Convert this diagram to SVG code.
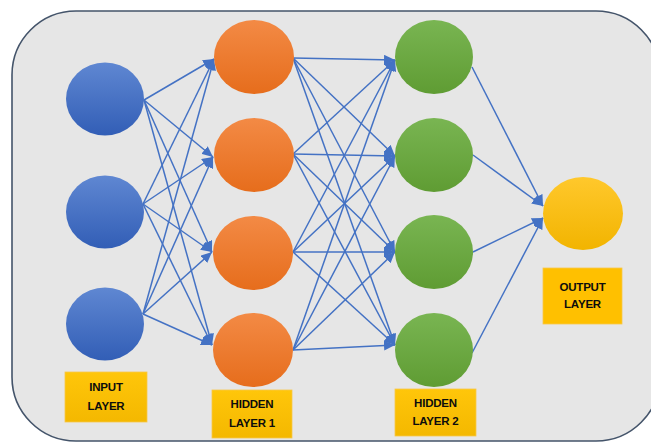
<svg xmlns="http://www.w3.org/2000/svg" width="651" height="443" viewBox="0 0 651 443">
<defs>
<linearGradient id="gBlue" x1="0" y1="0" x2="0" y2="1"><stop offset="0" stop-color="#5f87d2"/><stop offset="1" stop-color="#325eb6"/></linearGradient>
<linearGradient id="gOrange" x1="0" y1="0" x2="0" y2="1"><stop offset="0" stop-color="#f38a45"/><stop offset="1" stop-color="#e66d1c"/></linearGradient>
<linearGradient id="gGreen" x1="0" y1="0" x2="0" y2="1"><stop offset="0" stop-color="#79b552"/><stop offset="1" stop-color="#5f9c33"/></linearGradient>
<linearGradient id="gYellow" x1="0" y1="0" x2="0" y2="1"><stop offset="0" stop-color="#ffc82c"/><stop offset="1" stop-color="#f2b400"/></linearGradient>
<linearGradient id="gLabel" x1="0" y1="0" x2="0" y2="1"><stop offset="0" stop-color="#ffc60a"/><stop offset="1" stop-color="#f4b800"/></linearGradient>
<marker id="arr" markerUnits="userSpaceOnUse" markerWidth="12" markerHeight="10" refX="11" refY="5" orient="auto"><path d="M0,0 L11,5 L0,10 z" fill="#4472c4"/></marker>
<style>
.bg{fill:#e6e6e6;stroke:#44546a;stroke-width:1.6}
.e{stroke:#4472c4;stroke-width:1.5;fill:none;marker-end:url(#arr)}
.in{fill:url(#gBlue)}
.h1{fill:url(#gOrange)}
.h2{fill:url(#gGreen)}
.out{fill:url(#gYellow)}
.lb{fill:url(#gLabel);stroke:#f7c74a;stroke-width:0.8}
.lbo{fill:#ffc000;stroke:#f7c74a;stroke-width:0.8}
.t{font-family:"Liberation Sans",Arial,sans-serif;font-weight:bold;font-size:11.5px;fill:#0d0d0d;text-anchor:middle;letter-spacing:-0.2px}
</style>
</defs>
<rect class="bg" x="12" y="11" width="648" height="430" rx="64" ry="64"/>
<g id="connectors">
<path class="e" d="M144,100 L214,59"/><path class="e" d="M144,100 L213,157"/><path class="e" d="M144,100 L212,252"/><path class="e" d="M144,100 L212,345"/>
<path class="e" d="M143,204 L214,59"/><path class="e" d="M143,204 L213,157"/><path class="e" d="M143,204 L212,252"/><path class="e" d="M143,204 L212,345"/>
<path class="e" d="M143,314 L214,59"/><path class="e" d="M143,314 L213,157"/><path class="e" d="M143,314 L212,252"/><path class="e" d="M143,314 L212,345"/>
<path class="e" d="M293,58 L395,60"/><path class="e" d="M293,58 L395,156"/><path class="e" d="M293,58 L395,252"/><path class="e" d="M293,58 L395,345"/>
<path class="e" d="M293,154 L395,60"/><path class="e" d="M293,154 L395,156"/><path class="e" d="M293,154 L395,252"/><path class="e" d="M293,154 L395,345"/>
<path class="e" d="M293,252 L395,60"/><path class="e" d="M293,252 L395,156"/><path class="e" d="M293,252 L395,252"/><path class="e" d="M293,252 L395,345"/>
<path class="e" d="M293,350 L395,60"/><path class="e" d="M293,350 L395,156"/><path class="e" d="M293,350 L395,252"/><path class="e" d="M293,350 L395,345"/>
<path class="e" d="M472,67 L543,206"/><path class="e" d="M473,155 L543,206"/><path class="e" d="M473,252 L543,218"/><path class="e" d="M472,353 L543,218"/>
</g>
<g id="input1"><ellipse class="in" cx="105" cy="99" rx="39" ry="36.5"/></g>
<g id="input2"><ellipse class="in" cx="105" cy="212" rx="39" ry="36.5"/></g>
<g id="input3"><ellipse class="in" cx="105" cy="324" rx="39" ry="36.5"/></g>
<g id="hidden1_1"><ellipse class="h1" cx="254" cy="57" rx="40" ry="37"/></g>
<g id="hidden1_2"><ellipse class="h1" cx="254" cy="155" rx="40" ry="37"/></g>
<g id="hidden1_3"><ellipse class="h1" cx="253" cy="253" rx="40" ry="37"/></g>
<g id="hidden1_4"><ellipse class="h1" cx="253" cy="350" rx="40" ry="37"/></g>
<g id="hidden2_1"><ellipse class="h2" cx="434" cy="57" rx="39" ry="37"/></g>
<g id="hidden2_2"><ellipse class="h2" cx="434" cy="155" rx="39" ry="37"/></g>
<g id="hidden2_3"><ellipse class="h2" cx="434" cy="252" rx="39" ry="37"/></g>
<g id="hidden2_4"><ellipse class="h2" cx="434" cy="350" rx="39" ry="37"/></g>
<g id="output"><ellipse class="out" cx="583" cy="213.5" rx="40" ry="36.5"/></g>
<g id="label_input"><rect class="lb" x="65" y="372" width="82" height="50"/><text class="t" x="106" y="391">INPUT</text><text class="t" x="106" y="410">LAYER</text></g>
<g id="label_hidden1"><rect class="lb" x="212" y="390" width="80" height="48"/><text class="t" x="252" y="408">HIDDEN</text><text class="t" x="252" y="427">LAYER 1</text></g>
<g id="label_hidden2"><rect class="lb" x="395" y="389" width="81" height="47"/><text class="t" x="435.5" y="407">HIDDEN</text><text class="t" x="435.5" y="425">LAYER 2</text></g>
<g id="label_output"><rect class="lbo" x="543" y="268" width="79" height="56"/><text class="t" x="582.5" y="291">OUTPUT</text><text class="t" x="582.5" y="308">LAYER</text></g>
</svg>
